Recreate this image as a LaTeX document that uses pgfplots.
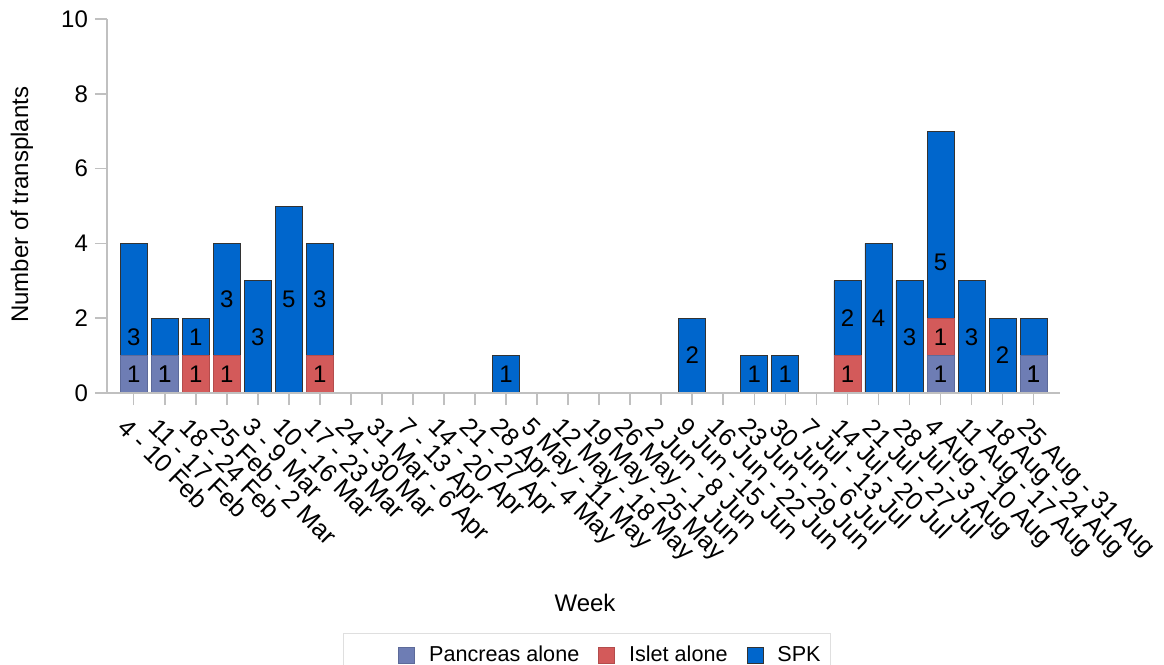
\documentclass[border=0pt]{standalone}
\usepackage{fontspec}
\setmainfont{Liberation Sans}
\usepackage{pgfplots}
\usepackage{pgfplotstable}
\pgfplotsset{compat=1.18}
\definecolor{panc}{HTML}{6E7DB4}
\definecolor{islet}{HTML}{D35A5A}
\definecolor{spk}{HTML}{0066CC}
\definecolor{axgray}{HTML}{C0C0C0}
\newcommand{\myfont}{\fontsize{12}{14}\selectfont}
\newcommand{\xfont}{\fontsize{12.6}{15}\selectfont}
\newcommand{\legfont}{\fontsize{10.8}{13}\selectfont}

\pgfplotstableread{
x p i s
0 1 0 3
1 1 0 1
2 0 1 1
3 0 1 3
4 0 0 3
5 0 0 5
6 0 1 3
7 0 0 0
8 0 0 0
9 0 0 0
10 0 0 0
11 0 0 0
12 0 0 1
13 0 0 0
14 0 0 0
15 0 0 0
16 0 0 0
17 0 0 0
18 0 0 2
19 0 0 0
20 0 0 1
21 0 0 1
22 0 0 0
23 0 1 2
24 0 0 4
25 0 0 3
26 1 1 5
27 0 0 3
28 0 0 2
29 1 0 1
}\data

\begin{document}
\begin{tikzpicture}
\useasboundingbox (-53.5pt,-136pt) rectangle (528.5pt,196.5pt);
\begin{axis}[
  at={(0,0)}, anchor=south west,
  scale only axis, width=476.5pt, height=187pt,
  ybar stacked, bar width=0.87,
  xmin=-0.86, xmax=29.85, ymin=0, ymax=10,
  ytick={0,2,...,10},
  xtick={0,...,29},
  xticklabels={4 - 10 Feb, 11 - 17 Feb, 18 - 24 Feb, 25 Feb - 2 Mar, 3 - 9 Mar, 10 - 16 Mar, 17 - 23 Mar, 24 - 30 Mar, 31 Mar - 6 Apr, 7 - 13 Apr, 14 - 20 Apr, 21 - 27 Apr, 28 Apr - 4 May, 5 May - 11 May, 12 May - 18 May, 19 May - 25 May, 26 May - 1 Jun, 2 Jun - 8 Jun, 9 Jun - 15 Jun, 16 Jun - 22 Jun, 23 Jun - 29 Jun, 30 Jun - 6 Jul, 7 Jul - 13 Jul, 14 Jul - 20 Jul, 21 Jul - 27 Jul, 28 Jul - 3 Aug, 4 Aug - 10 Aug, 11 Aug - 17 Aug, 18 Aug - 24 Aug, 25 Aug - 31 Aug},
  axis x line=bottom, axis y line=left,
  axis line style={-, draw=axgray, line width=0.8pt},
  tick style={draw=axgray, line width=0.8pt},
  tick align=outside, major tick length=6pt,
  axis on top,
  /pgf/number format/assume math mode=true,
  ticklabel style={font=\myfont},
  xticklabel style={font=\xfont, rotate=-45, anchor=north west, xshift=-1pt, yshift=-2pt},
  yticklabel style={xshift=0pt},
  xlabel={Week}, ylabel={Number of transplants},
  label style={font=\myfont},
  xlabel style={at={(axis description cs:0.5016,-0.5615)}, anchor=center},
  ylabel style={at={(axis description cs:-0.0892,0.503)}, anchor=center, rotate=0},
  legend style={at={(0.5037,-0.643)}, anchor=north, legend columns=-1, draw=gray!25, font=\legfont, inner xsep=3pt, inner ysep=4pt,
    /tikz/every even column/.append style={column sep=7.5pt},
    /tikz/every odd column/.append style={column sep=5pt}},
  legend image code/.code={\draw[#1] (0pt,-4pt) rectangle (8pt,4pt);},
  nodes near coords={\pgfmathfloatifflags{\pgfplotspointmeta}{0}{}{\pgfmathprintnumber{\pgfplotspointmeta}}},
  every node near coord/.append style={font=\myfont, black, anchor=center},
]
\addlegendimage{empty legend}
\addlegendentry{\rule{8pt}{0pt}}
\addplot[fill=panc, draw=panc!85!black, line width=0.4pt,
  point meta={\thisrow{p}}]
  table[x=x, y=p] {\data};
\addlegendentry{Pancreas alone}
\addplot[fill=islet, draw=islet!85!black, line width=0.4pt,
  point meta={\thisrow{i}}]
  table[x=x, y=i] {\data};
\addlegendentry{Islet alone}
\addplot[fill=spk, draw=black!80, line width=0.4pt,
  point meta={\thisrow{s}},
  visualization depends on={\thisrow{p} \as \pv},
  every node near coord/.append style={shift={(axis direction cs:0,{-\pv})}}]
  table[x=x, y=s] {\data};
\addlegendentry{SPK}
\end{axis}
\end{tikzpicture}
\end{document}
